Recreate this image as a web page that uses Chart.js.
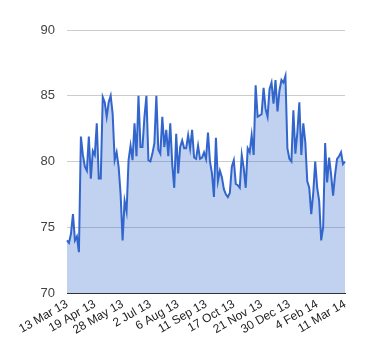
<!DOCTYPE html>
<html>
<head>
<meta charset="utf-8">
<script src="https://cdn.jsdelivr.net/npm/chart.js@4"></script>
<style>
  html, body { margin: 0; padding: 0; background: #fff; }
  #wrap { width: 380px; height: 360px; }
</style>
</head>
<body>
<div id="wrap"><canvas id="chart" width="380" height="360"></canvas></div>
<script>
// tick labels shown along the x axis (one every 14 points)
const tickLabels = ['13 Mar 13', '19 Apr 13', '28 May 13', '2 Jul 13', '6 Aug 13', '11 Sep 13',
  '17 Oct 13', '21 Nov 13', '30 Dec 13', '4 Feb 14', '11 Mar 14'];
const tickEvery = 14;

// series values
const values = [
  74.0, 73.8, 74.5, 76.0, 74.0, 74.3, 73.1, 81.9, 80.5, 79.6,
  79.3, 81.9, 78.7, 80.8, 80.5, 82.9, 78.7, 78.7, 84.9, 84.5,
  83.4, 84.5, 85.0, 83.6, 80.1, 80.7, 79.6, 77.5, 74.0, 77.0,
  76.2, 80.1, 81.2, 80.1, 82.9, 80.4, 85.0, 81.1, 81.1, 83.4,
  85.0, 80.1, 80.0, 80.6, 81.4, 85.0, 80.9, 80.6, 83.4, 81.1,
  82.4, 80.4, 82.9, 79.8, 78.0, 82.1, 79.1, 81.1, 81.6, 81.0,
  81.0, 82.0, 81.0, 82.4, 80.3, 80.2, 81.2, 80.2, 80.3, 80.7,
  80.2, 82.2, 80.0, 79.1, 77.3, 81.8, 78.5, 79.3, 78.8, 77.9,
  77.5, 77.3, 77.6, 79.6, 80.1, 78.3, 78.2, 78.0, 80.5, 79.5,
  78.0, 81.0, 80.7, 82.0, 80.5, 85.8, 83.4, 83.5, 83.6, 85.6,
  84.0, 83.4, 85.5, 86.0, 84.4, 86.2, 83.8, 85.4, 86.2, 86.0,
  86.5, 81.0, 80.2, 80.0, 83.9, 80.6, 82.2, 84.5, 80.5, 82.9,
  81.5, 78.5, 78.0, 76.0, 77.6, 80.0, 78.0, 77.0, 74.0, 75.0,
  81.4, 78.4, 80.3, 79.0, 77.4, 79.0, 80.2, 80.4, 80.7, 79.8,
  80.0
];
const categories = values.map((_, i) => i);

const yMin = 70, yMax = 90, yStep = 5;

new Chart(document.getElementById('chart'), {
  type: 'line',
  data: {
    labels: categories,
    datasets: [{
      data: values,
      borderColor: '#3366cc',
      backgroundColor: 'rgba(51,102,204,0.3)',
      borderWidth: 2,
      fill: 'start',
      pointRadius: 0,
      tension: 0
    }]
  },
  options: {
    responsive: false,
    animation: false,
    layout: { padding: { left: 0, right: 35, top: 30, bottom: 0 } },
    plugins: { legend: { display: false }, tooltip: { enabled: false } },
    scales: {
      x: {
        grid: { display: false, drawTicks: false },
        border: { display: true, color: '#333', width: 1 },
        ticks: {
          autoSkip: false,
          minRotation: 30,
          maxRotation: 30,
          padding: 4,
          color: '#222',
          font: { family: 'Arial, "Liberation Sans"', size: 12 },
          callback: (v, i) => i % tickEvery === 0 ? tickLabels[i / tickEvery] : ''
        },
        afterFit: s => { s.height = 67; }
      },
      y: {
        min: yMin,
        max: yMax,
        grid: { color: '#cccccc', drawTicks: false },
        border: { display: false },
        ticks: {
          stepSize: yStep,
          padding: 12,
          color: '#444',
          font: { family: 'Arial, "Liberation Sans"', size: 13 }
        },
        afterFit: s => { s.width = 67; }
      }
    }
  }
});
</script>
</body>
</html>
